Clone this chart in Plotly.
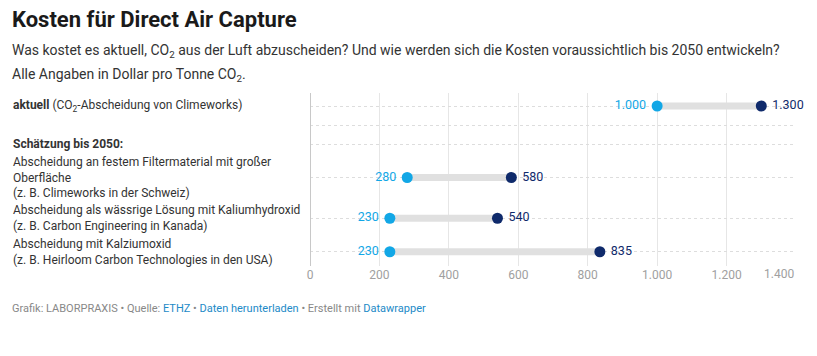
import plotly.graph_objects as go

# ---- data ----
row_labels = [
    "<b>aktuell</b> (CO<sub>2</sub>-Abscheidung von Climeworks)",
    "",
    "<b>Schätzung bis 2050:</b>",
    "Abscheidung an festem Filtermaterial mit großer<br>Oberfläche<br>(z. B. Climeworks in der Schweiz)",
    "Abscheidung als wässrige Lösung mit Kaliumhydroxid<br>(z. B. Carbon Engineering in Kanada)",
    "Abscheidung mit Kalziumoxid<br>(z. B. Heirloom Carbon Technologies in den USA)",
]
low_values = [1000, None, None, 280, 230, 230]
high_values = [1300, None, None, 580, 540, 835]
x_ticks = [0, 200, 400, 600, 800, 1000, 1200, 1400]


def de_fmt(v):
    return f"{v:,}".replace(",", ".")


x_tick_text = [de_fmt(v) for v in x_ticks]

# ---- layout geometry ----
# The page body keeps its default 8px margin, so the figure starts at (8, 8);
# size it so the page does not overflow the 817x356 window.
OFF = 8
W, H = 817 - OFF, 356 - 2 * OFF
PLOT_LEFT, PLOT_RIGHT, PLOT_TOP, PLOT_BOTTOM = 310, 796, 93, 266  # page pixels
ML = PLOT_LEFT - OFF
MR = W - (PLOT_RIGHT - OFF)
MT = PLOT_TOP - OFF
MB = H - (PLOT_BOTTOM - OFF)
PW = W - ML - MR
PH = H - MT - MB

LIGHT = "#12a7e6"
DARK = "#0f2a6b"
BAR = "#e0e0e0"
TICK = "#a0a0a0"
FONT = "Roboto"


def px(x):
    # x in page pixels -> paper coordinate
    return (x - PLOT_LEFT) / PW


def py(y):
    return (PLOT_BOTTOM - y) / PH


# row centres derived from the number of text lines in each label
centers = []
pos = 3.5
for lab in row_labels:
    n = max(1, lab.count("<br>") + 1)
    h = 14.5 * n + 4.5
    centers.append(pos + h / 2)
    pos += h

fig = go.Figure()

# gray connecting bars
for lo, hi, c in zip(low_values, high_values, centers):
    if lo is None:
        continue
    fig.add_trace(go.Scatter(x=[lo, hi], y=[c, c], mode="lines",
                             line=dict(color=BAR, width=7), hoverinfo="skip",
                             showlegend=False))

xs_lo = [v for v in low_values if v is not None]
ys_lo = [c for v, c in zip(low_values, centers) if v is not None]
xs_hi = [v for v in high_values if v is not None]
ys_hi = [c for v, c in zip(high_values, centers) if v is not None]

fig.add_trace(go.Scatter(x=xs_lo, y=ys_lo, mode="markers+text",
                         marker=dict(color=LIGHT, size=11),
                         text=[de_fmt(v) + " " for v in xs_lo],
                         textposition="middle left", cliponaxis=False,
                         textfont=dict(color=LIGHT, size=12.5, family=FONT),
                         showlegend=False))
fig.add_trace(go.Scatter(x=xs_hi, y=ys_hi, mode="markers+text",
                         marker=dict(color=DARK, size=11),
                         text=[" " + de_fmt(v) for v in xs_hi],
                         textposition="middle right", cliponaxis=False,
                         textfont=dict(color=DARK, size=12.5, family=FONT),
                         showlegend=False))

annotations = []
# row labels
for lab, c in zip(row_labels, centers):
    if not lab:
        continue
    annotations.append(dict(text=lab, x=px(11), y=c, xref="paper", yref="y",
                            xanchor="left", yanchor="middle", align="left",
                            showarrow=False,
                            font=dict(family=FONT, size=12, color="#333333")))

# last tick label is kept inside the chart (right-aligned to its gridline)
annotations.append(dict(text=x_tick_text[-1], x=x_ticks[-1], y=py(273.5),
                        xref="x", yref="paper", xanchor="right", yanchor="middle",
                        showarrow=False, font=dict(family=FONT, size=12, color=TICK)))
axis_tick_text = x_tick_text[:-1] + [""]

# title & subtitle
annotations.append(dict(text="<b>Kosten für Direct Air Capture</b>", x=px(10), y=py(20),
                        xref="paper", yref="paper", xanchor="left", yanchor="middle",
                        showarrow=False, font=dict(family=FONT, size=22, color="#1a1a1a")))
annotations.append(dict(text="Was kostet es aktuell, CO<sub>2</sub> aus der Luft abzuscheiden? "
                             "Und wie werden sich die Kosten voraussichtlich bis 2050 entwickeln?",
                        x=px(10), y=py(51), xref="paper", yref="paper", xanchor="left",
                        yanchor="middle", showarrow=False,
                        font=dict(family=FONT, size=14, color="#333333")))
annotations.append(dict(text="Alle Angaben in Dollar pro Tonne CO<sub>2</sub>.",
                        x=px(10), y=py(75), xref="paper", yref="paper", xanchor="left",
                        yanchor="middle", showarrow=False,
                        font=dict(family=FONT, size=14, color="#333333")))
# footer
annotations.append(dict(text="Grafik: LABORPRAXIS • Quelle: <span style='color:#1d8ac7'>ETHZ</span> • "
                             "<span style='color:#1d8ac7'>Daten herunterladen</span> • Erstellt mit "
                             "<span style='color:#1d8ac7'>Datawrapper</span>",
                        x=px(10), y=py(308), xref="paper", yref="paper", xanchor="left",
                        yanchor="middle", showarrow=False,
                        font=dict(family=FONT, size=11, color="#888888")))

fig.update_layout(
    width=W, height=H,
    margin=dict(l=ML, r=MR, t=MT, b=MB, autoexpand=False),
    paper_bgcolor="white", plot_bgcolor="white",
    font=dict(family=FONT),
    annotations=annotations,
    xaxis=dict(range=[0, 1400], tickvals=x_ticks, ticktext=axis_tick_text,
               automargin=False,
               showgrid=True, gridcolor="#e6e6e6", gridwidth=1,
               zeroline=True, zerolinecolor="#c8c8c8", zerolinewidth=1,
               showline=False, ticks="", ticklen=0,
               tickfont=dict(family=FONT, size=12, color=TICK),
               fixedrange=True),
    yaxis=dict(range=[PH, 0], tickvals=centers, showticklabels=False,
               automargin=False,
               showgrid=True, gridcolor="#dddddd", griddash="dot", gridwidth=1,
               zeroline=False, showline=False, fixedrange=True),
    hovermode=False,
)

fig.write_html("out.html")
